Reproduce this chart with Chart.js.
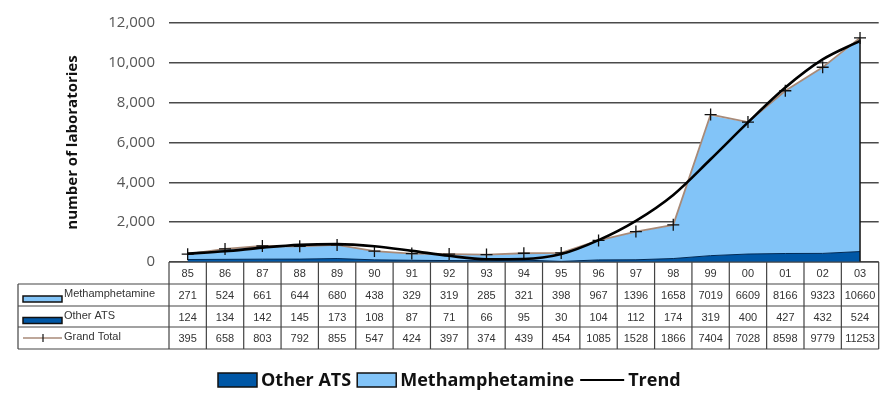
<!DOCTYPE html>
<html>
<head>
<meta charset="utf-8">
<script src="https://cdn.jsdelivr.net/npm/chart.js@4/dist/chart.umd.min.js"></script>
<style>
html,body{margin:0;padding:0;background:#ffffff;}
#wrap{width:886px;height:396px;position:relative;}
</style>
</head>
<body>
<div id="wrap"><canvas id="c" width="886" height="396"></canvas></div>
<script>
const categories = ['85','86','87','88','89','90','91','92','93','94','95','96','97','98','99','00','01','02','03'];
const methamphetamine = [271,524,661,644,680,438,329,319,285,321,398,967,1396,1658,7019,6609,8166,9323,10660];
const otherATS = [124,134,142,145,173,108,87,71,66,95,30,104,112,174,319,400,427,432,524];
const grandTotal = [395,658,803,792,855,547,424,397,374,439,454,1085,1528,1866,7404,7028,8598,9779,11253];
const trend = [420,540,720,860,900,790,560,310,140,150,400,1100,2070,3370,5160,7010,8760,10170,11100];
const yTicks = [0,2000,4000,6000,8000,10000,12000];

const COL_DARK = '#0057A6';
const COL_LIGHT = '#82C4F8';
const COL_TOTAL = '#a88a78';

const tablePlugin = {
  id: 'tablePlugin',
  afterDraw(chart) {
    const ctx = chart.ctx;
    const xs = chart.scales.x, ys = chart.scales.y;
    const a = chart.chartArea;
    const n = categories.length;
    const colW = (a.right - a.left) / n;
    const rows = [a.bottom, a.bottom + 22, a.bottom + 44, a.bottom + 65, a.bottom + 87];
    const leftX = 18;
    ctx.save();
    // right edge of area
    const last = n - 1;
    const lx = xs.getPixelForValue(last);
    ctx.strokeStyle = '#111';
    ctx.lineWidth = 1.5;
    ctx.beginPath();
    ctx.moveTo(lx, ys.getPixelForValue(methamphetamine[last] + otherATS[last]));
    ctx.lineTo(lx, ys.getPixelForValue(0));
    ctx.stroke();

    // table lines
    ctx.strokeStyle = '#444';
    ctx.lineWidth = 1.2;
    ctx.beginPath();
    ctx.moveTo(a.left, rows[0]); ctx.lineTo(a.right, rows[0]);
    for (let r = 1; r < rows.length; r++) {
      ctx.moveTo(leftX, rows[r]); ctx.lineTo(a.right, rows[r]);
    }
    for (let i = 0; i <= n; i++) {
      const x = i < n ? xs.getPixelForValue(i) - colW / 2 : xs.getPixelForValue(n - 1) + colW / 2;
      ctx.moveTo(x, rows[0]); ctx.lineTo(x, rows[4]);
    }
    ctx.moveTo(leftX, rows[1]); ctx.lineTo(leftX, rows[4]);
    ctx.stroke();

    // cell text
    ctx.fillStyle = '#333';
    ctx.font = '11px "Liberation Sans", Arial, sans-serif';
    ctx.textAlign = 'center';
    ctx.textBaseline = 'middle';
    const rowData = [categories, methamphetamine, otherATS, grandTotal];
    for (let r = 0; r < 4; r++) {
      const cy = (rows[r] + rows[r + 1]) / 2 + 1;
      for (let i = 0; i < n; i++) {
        ctx.fillText(String(rowData[r][i]), xs.getPixelForValue(i), cy);
      }
    }
    // row labels
    ctx.textAlign = 'left';
    const labels = ['Methamphetamine', 'Other ATS', 'Grand Total'];
    for (let r = 1; r < 4; r++) {
      const cy = (rows[r] + rows[r + 1]) / 2;
      if (r === 1 || r === 2) {
        ctx.fillStyle = r === 1 ? COL_LIGHT : COL_DARK;
        ctx.fillRect(23, cy + 1, 39, 6);
        ctx.strokeStyle = '#111';
        ctx.lineWidth = 1.5;
        ctx.strokeRect(23, cy + 1, 39, 6);
      } else {
        ctx.strokeStyle = COL_TOTAL;
        ctx.lineWidth = 1.5;
        ctx.beginPath(); ctx.moveTo(23, cy); ctx.lineTo(62, cy); ctx.stroke();
        ctx.strokeStyle = '#111';
        ctx.lineWidth = 1.2;
        ctx.beginPath(); ctx.moveTo(43, cy - 4); ctx.lineTo(43, cy + 4); ctx.stroke();
      }
      ctx.fillStyle = '#333';
      ctx.fillText(labels[r - 1], 64, cy - 1);
    }

    // bottom legend
    const items = [
      {label: 'Other ATS', type: 'box', color: COL_DARK},
      {label: 'Methamphetamine', type: 'box', color: COL_LIGHT},
      {label: 'Trend', type: 'line', color: '#000'}
    ];
    ctx.font = 'bold 18px "Open Sans", sans-serif';
    let x = 218;
    const ly = 380;
    items.forEach((it) => {
      const sw = it.type === 'box' ? 39 : 44;
      const tw = ctx.measureText(it.label).width;
      if (it.type === 'box') {
        ctx.fillStyle = it.color;
        ctx.fillRect(x, ly - 7, sw, 14);
        ctx.strokeStyle = '#111';
        ctx.lineWidth = 1.5;
        ctx.strokeRect(x, ly - 7, sw, 14);
      } else {
        ctx.strokeStyle = it.color;
        ctx.lineWidth = 2;
        ctx.beginPath(); ctx.moveTo(x, ly); ctx.lineTo(x + sw, ly); ctx.stroke();
      }
      x += sw + 4;
      ctx.fillStyle = '#111';
      ctx.textBaseline = 'middle';
      ctx.fillText(it.label, x, ly + 1);
      x += tw + 6;
    });
    ctx.restore();
  }
};

new Chart(document.getElementById('c'), {
  type: 'line',
  data: {
    labels: categories,
    datasets: [
      {label: 'Other ATS', data: otherATS, stack: 'area', order: 1, fill: 'origin',
       backgroundColor: COL_DARK, borderColor: '#002a55', borderWidth: 1, pointRadius: 0, tension: 0},
      {label: 'Methamphetamine', data: methamphetamine, stack: 'area', order: 2, fill: '-1',
       backgroundColor: COL_LIGHT, borderColor: COL_LIGHT, borderWidth: 0, pointRadius: 0, tension: 0},
      {label: 'Grand Total', data: grandTotal, stack: 'total', order: 0, fill: false,
       borderColor: COL_TOTAL, borderWidth: 1.8, pointStyle: 'cross', pointRadius: 6,
       pointBorderColor: '#111', pointBorderWidth: 1.3, tension: 0},
      {label: 'Trend', data: trend, stack: 'trend', order: -1, fill: false,
       borderColor: '#000', borderWidth: 2.6, pointRadius: 0, cubicInterpolationMode: 'monotone'}
    ]
  },
  options: {
    responsive: false,
    animation: false,
    layout: {padding: {left: 64, right: 1, top: 20, bottom: 134}},
    plugins: {legend: {display: false}, tooltip: {enabled: false}},
    scales: {
      x: {display: false, offset: true, stacked: true},
      y: {
        stacked: true,
        min: 0, max: 12000,
        afterBuildTicks(s) { s.ticks = yTicks.map(v => ({value: v})); },
        afterFit(s) { s.width = 105; },
        border: {display: false},
        grid: {color: '#4a4a4a', lineWidth: 1.5, drawTicks: false},
        ticks: {
          padding: 14, color: '#555',
          font: {family: '"Open Sans", sans-serif', size: 15},
          callback: v => v.toLocaleString('en-US')
        },
        title: {display: true, text: 'number of laboratories', color: '#111',
          padding: 0, font: {family: '"Open Sans", sans-serif', size: 15, weight: 'bold'}}
      }
    }
  },
  plugins: [tablePlugin]
});
</script>
</body>
</html>
